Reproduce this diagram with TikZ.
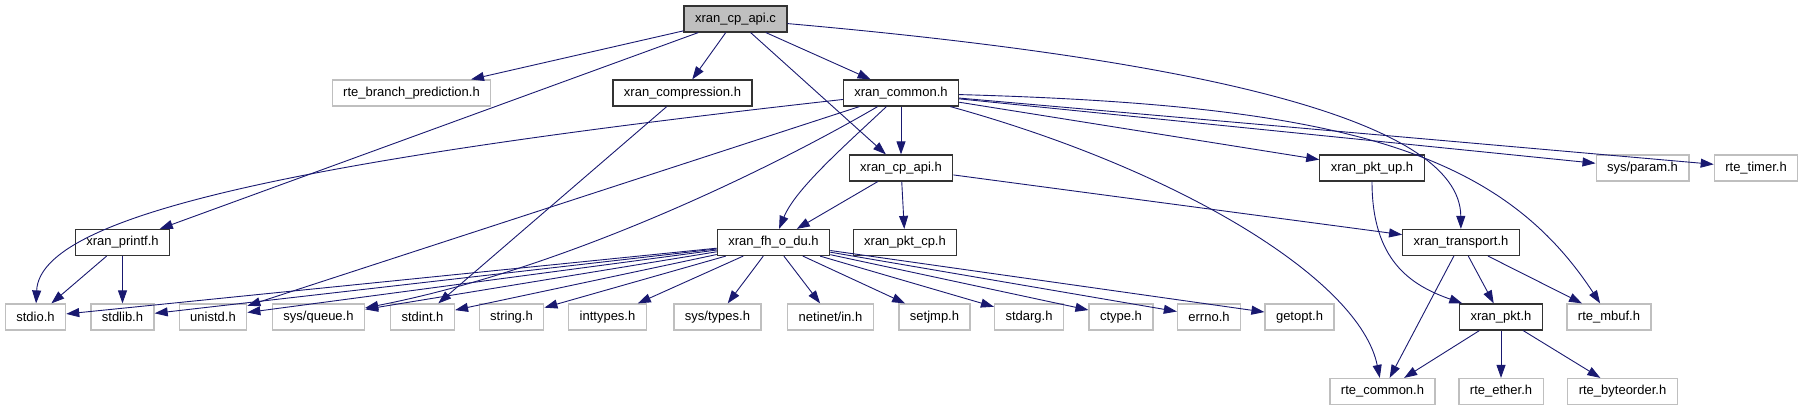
\documentclass[tikz,border=0pt]{standalone}
\usepackage{fontspec}
\setmainfont{Liberation Sans}
\usepackage{xcolor}
\usepackage{tikz}
\usetikzlibrary{arrows.meta,positioning}
\definecolor{edgeblue}{RGB}{25,25,112}
\definecolor{boxgray}{RGB}{191,191,191}

\begin{document}
\begin{tikzpicture}[x=1pt, y=-1pt,
    hdrfile/.style={rectangle, draw=black!80, line width=1.2pt, fill=white, minimum height=26pt, inner xsep=11pt, inner ysep=0pt, font=\fontsize{13}{15}\selectfont},
    extfile/.style={hdrfile, draw=boxgray},
    srcfile/.style={hdrfile, fill=boxgray},
    dep/.style={-{Triangle[length=13pt, width=9pt]}, edgeblue, line width=0.9pt}
]
    \useasboundingbox (0,0) rectangle (1803,411);

    % top rows
    \node[srcfile] (cpapic) at (735.5,19) {xran\_cp\_api.c};
    \node[extfile] (branch) at (411.5,93) {rte\_branch\_prediction.h};
    \node[hdrfile] (compr) at (682.5,93) {xran\_compression.h};
    \node[hdrfile] (common) at (901,93) {xran\_common.h};
    \node[hdrfile] (cpapih) at (901,168) {xran\_cp\_api.h};
    \node[hdrfile] (pktup) at (1372,168) {xran\_pkt\_up.h};
    \node[extfile] (sysparam) at (1642.5,168) {sys/param.h};
    \node[extfile] (rtetimer) at (1756,168) {rte\_timer.h};
    \node[hdrfile] (printf) at (122.5,242.5) {xran\_printf.h};
    \node[hdrfile] (fhodu) at (773.5,242.5) {xran\_fh\_o\_du.h};
    \node[hdrfile] (pktcp) at (905,242.5) {xran\_pkt\_cp.h};
    \node[hdrfile] (transport) at (1461,242.5) {xran\_transport.h};

    % system headers
    \node[extfile] (stdio) at (35.5,317) {stdio.h};
    \node[extfile] (stdlib) at (122.5,317) {stdlib.h};
    \node[extfile] (unistd) at (213,317) {unistd.h};
    \node[extfile] (squeue) at (318.5,317) {sys/queue.h};
    \node[extfile] (stdint) at (422.5,317) {stdint.h};
    \node[extfile] (string) at (511.5,317) {string.h};
    \node[extfile] (inttypes) at (607.5,317) {inttypes.h};
    \node[extfile] (systypes) at (717.5,317) {sys/types.h};
    \node[extfile] (netinet) at (830.5,317) {netinet/in.h};
    \node[extfile] (setjmp) at (934.5,317) {setjmp.h};
    \node[extfile] (stdarg) at (1029,317) {stdarg.h};
    \node[extfile] (ctype) at (1121,317) {ctype.h};
    \node[extfile] (errno) at (1209,317) {errno.h};
    \node[extfile] (getopt) at (1299.5,317) {getopt.h};
    \node[hdrfile] (pkt) at (1501,317) {xran\_pkt.h};
    \node[extfile] (rtembuf) at (1609,317) {rte\_mbuf.h};
    \node[extfile] (rtecommon) at (1382.5,391.5) {rte\_common.h};
    \node[extfile] (rteether) at (1501,391.5) {rte\_ether.h};
    \node[extfile] (byteorder) at (1622.5,391.5) {rte\_byteorder.h};

    % xran_cp_api.c
    \draw[dep] (cpapic) -- (branch);
    \draw[dep] (cpapic) -- (printf);
    \draw[dep] (cpapic) -- (compr);
    \draw[dep] (cpapic) -- (cpapih);
    \draw[dep] (cpapic) -- (common);
    \draw[dep] (cpapic) .. controls (1200,60) and (1460,120) .. (transport);

    \draw[dep] (compr) -- (stdint);

    % xran_common.h
    \draw[dep] (common) -- (cpapih);
    \draw[dep] (common) .. controls (300,160) and (40,215) .. (stdio);
    \draw[dep] (common) -- (unistd);
    \draw[dep] (common) .. controls (760,175) and (560,270) .. (squeue);
    \draw[dep] (common) .. controls (840,150) and (795,190) .. (fhodu);
    \draw[dep] (common) -- (pktup);
    \draw[dep] (common) -- (sysparam);
    \draw[dep] (common) -- (rtetimer);
    \draw[dep] (common) .. controls (1180,170) and (1360,280) .. (rtecommon);
    \draw[dep] (common) .. controls (1340,105) and (1500,150) .. (rtembuf);

    % xran_cp_api.h
    \draw[dep] (cpapih) -- (fhodu);
    \draw[dep] (cpapih) -- (pktcp);
    \draw[dep] (cpapih) -- (transport);

    \draw[dep] (printf) -- (stdio);
    \draw[dep] (printf) -- (stdlib);

    % xran_fh_o_du.h
    \draw[dep] (fhodu) -- (stdio);
    \draw[dep] (fhodu) -- (stdlib);
    \draw[dep] (fhodu) -- (unistd);
    \draw[dep] (fhodu) -- (squeue);
    \draw[dep] (fhodu) -- (stdint);
    \draw[dep] (fhodu) -- (string);
    \draw[dep] (fhodu) -- (inttypes);
    \draw[dep] (fhodu) -- (systypes);
    \draw[dep] (fhodu) -- (netinet);
    \draw[dep] (fhodu) -- (setjmp);
    \draw[dep] (fhodu) -- (stdarg);
    \draw[dep] (fhodu) -- (ctype);
    \draw[dep] (fhodu) -- (errno);
    \draw[dep] (fhodu) -- (getopt);

    % packet headers
    \draw[dep] (pktup) .. controls (1372,260) and (1410,285) .. (pkt);
    \draw[dep] (transport) -- (rtecommon);
    \draw[dep] (transport) -- (pkt);
    \draw[dep] (transport) -- (rtembuf);
    \draw[dep] (pkt) -- (rtecommon);
    \draw[dep] (pkt) -- (rteether);
    \draw[dep] (pkt) -- (byteorder);
\end{tikzpicture}
\end{document}
